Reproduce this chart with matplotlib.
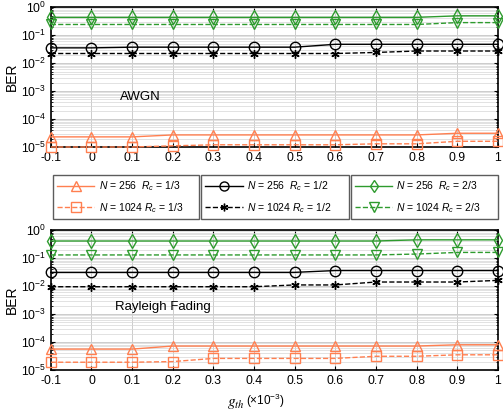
import numpy as np
import matplotlib
matplotlib.use("Agg")
import matplotlib.pyplot as plt
from matplotlib.lines import Line2D
from matplotlib.ticker import LogLocator, NullFormatter

plt.rcParams['font.family'] = ['Liberation Sans', 'DejaVu Sans']
plt.rcParams['mathtext.fontset'] = 'custom'
plt.rcParams['mathtext.it'] = 'Liberation Sans:italic'
plt.rcParams['mathtext.rm'] = 'Liberation Sans'

# threshold g_th (x1e-3)
g_th = [-0.1, 0, 0.1, 0.2, 0.3, 0.4, 0.5, 0.6, 0.7, 0.8, 0.9, 1.0]

# AWGN
awgn_256_13 = [2.3e-5, 2.3e-5, 2.3e-5, 2.7e-5, 2.7e-5, 2.7e-5, 2.7e-5, 2.7e-5, 2.7e-5, 2.7e-5, 3.1e-5, 3.1e-5]
awgn_1024_13 = [1.0e-5, 1.0e-5, 1.0e-5, 1.1e-5, 1.2e-5, 1.2e-5, 1.2e-5, 1.2e-5, 1.3e-5, 1.3e-5, 1.6e-5, 1.6e-5]
awgn_256_12 = [0.035, 0.035, 0.037, 0.037, 0.037, 0.037, 0.037, 0.047, 0.047, 0.047, 0.047, 0.047]
awgn_1024_12 = [0.022, 0.022, 0.022, 0.022, 0.022, 0.022, 0.022, 0.022, 0.024, 0.027, 0.027, 0.027]
awgn_256_23 = [0.43, 0.43, 0.43, 0.43, 0.43, 0.43, 0.43, 0.43, 0.43, 0.43, 0.49, 0.49]
awgn_1024_23 = [0.24, 0.24, 0.24, 0.24, 0.24, 0.24, 0.24, 0.24, 0.24, 0.24, 0.28, 0.28]

# Rayleigh fading
ray_256_13 = [5.6e-5, 5.6e-5, 5.6e-5, 7.2e-5, 7.2e-5, 7.2e-5, 7.2e-5, 7.2e-5, 7.2e-5, 7.2e-5, 8.0e-5, 8.0e-5]
ray_1024_13 = [1.9e-5, 1.9e-5, 1.9e-5, 2.0e-5, 2.6e-5, 2.6e-5, 2.6e-5, 2.6e-5, 3.1e-5, 3.1e-5, 3.5e-5, 3.5e-5]
ray_256_12 = [0.031, 0.031, 0.031, 0.031, 0.031, 0.031, 0.031, 0.036, 0.036, 0.036, 0.036, 0.036]
ray_1024_12 = [0.0095, 0.0095, 0.0095, 0.0095, 0.0095, 0.0095, 0.011, 0.011, 0.014, 0.014, 0.014, 0.016]
ray_256_23 = [0.41, 0.41, 0.41, 0.41, 0.41, 0.41, 0.41, 0.41, 0.41, 0.45, 0.45, 0.45]
ray_1024_23 = [0.13, 0.13, 0.13, 0.13, 0.13, 0.13, 0.13, 0.13, 0.13, 0.14, 0.16, 0.16]

xticks = [-0.1, 0, 0.1, 0.2, 0.3, 0.4, 0.5, 0.6, 0.7, 0.8, 0.9, 1]
xticklabels = ['-0.1', '0', '0.1', '0.2', '0.3', '0.4', '0.5', '0.6', '0.7', '0.8', '0.9', '1']

orange = '#FF7F50'
black = '#000000'
green = '#2E9B2E'

labels = [r'$N$ = 256  $R_c$ = 1/3', r'$N$ = 1024 $R_c$ = 1/3',
          r'$N$ = 256  $R_c$ = 1/2', r'$N$ = 1024 $R_c$ = 1/2',
          r'$N$ = 256  $R_c$ = 2/3', r'$N$ = 1024 $R_c$ = 2/3']
asterisk = (6, 2, 0)
styles = [(orange, '-', '^'), (orange, '--', 's'),
          (black, '-', 'o'), (black, '--', asterisk),
          (green, '-', 'd'), (green, '--', 'v')]

fig = plt.figure(figsize=(5.03, 4.2), dpi=100)
ax1 = fig.add_axes([0.101, 0.650, 0.889, 0.333])
ax2 = fig.add_axes([0.101, 0.119, 0.889, 0.333])


def draw(ax, series, title, tx, ty):
    for ys, (c, ls, m) in zip(series, styles):
        ax.plot(g_th, ys, color=c, linestyle=ls, marker=m, markersize=7.5 if m != asterisk else 6,
                markerfacecolor='none', markeredgecolor=c, markeredgewidth=1.0,
                linewidth=1.0, clip_on=False, zorder=3)
    ax.set_yscale('log')
    ax.set_ylim(1e-5, 1)
    ax.set_xlim(-0.1, 1)
    ax.set_xticks(xticks)
    ax.set_xticklabels(xticklabels)
    ax.set_yticks([1e-5, 1e-4, 1e-3, 1e-2, 1e-1, 1])
    ax.yaxis.set_minor_locator(LogLocator(base=10, subs=np.arange(2, 10), numticks=20))
    ax.yaxis.set_minor_formatter(NullFormatter())
    ax.grid(True, which='major', color='#cccccc', linewidth=0.7)
    ax.grid(True, which='minor', axis='y', color='#d6d6d6', linewidth=0.5)
    ax.set_axisbelow(True)
    ax.tick_params(which='both', direction='in', top=True, right=True, labelsize=8.8, length=3)
    ax.tick_params(which='minor', length=1.5)
    ax.set_ylabel('BER', fontsize=10, labelpad=1)
    for s in ax.spines.values():
        s.set_linewidth(1.2)
    ax.text(tx, ty, title, transform=ax.transAxes, fontsize=9.5)


draw(ax1, [awgn_256_13, awgn_1024_13, awgn_256_12, awgn_1024_12, awgn_256_23, awgn_1024_23],
     'AWGN', 0.155, 0.335)
draw(ax2, [ray_256_13, ray_1024_13, ray_256_12, ray_1024_12, ray_256_23, ray_1024_23],
     'Rayleigh Fading', 0.143, 0.43)

fig.text(0.452, 0.033, r'$g_{th}$', fontsize=11, math_fontfamily='stix')
fig.text(0.49, 0.035, '(×10$^{-3}$)', fontsize=8.5)

# three legend boxes between the panels
boxes = [(0.105, 0.480, 0.291, 0.101), (0.400, 0.480, 0.293, 0.101), (0.697, 0.480, 0.293, 0.101)]
for k, (x0, y0, w, h) in enumerate(boxes):
    handles = []
    for j in range(2):
        c, ls, m = styles[2 * k + j]
        handles.append(Line2D([], [], color=c, linestyle=ls, marker=m, markersize=6.5 if m != asterisk else 5.5,
                              markerfacecolor='none', markeredgecolor=c, linewidth=1.0))
    leg = fig.legend(handles, labels[2 * k:2 * k + 2], loc='center', bbox_to_anchor=(x0, y0, w, h),
                     mode='expand', fontsize=7.5, frameon=True, fancybox=False, edgecolor='#333333',
                     handlelength=3.6, handletextpad=0.4, borderpad=0.4, labelspacing=0.75,
                     borderaxespad=0)
    leg.get_frame().set_linewidth(1.0)

fig.savefig('out.png', dpi=100)
